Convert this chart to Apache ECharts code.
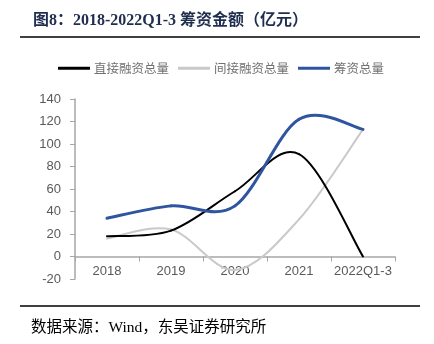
<!DOCTYPE html>
<html><head><meta charset="utf-8">
<script src="https://cdn.jsdelivr.net/npm/echarts@6/dist/echarts.min.js"></script>
<style>html,body{margin:0;padding:0;background:#fff}#c{width:434px;height:344px}</style>
</head><body><div id="c"></div>
<script>
var categories = ['2018', '2019', '2020', '2021', '2022Q1-3'];
var directFinancing = [18, 23, 58, 91, 0];
var indirectFinancing = [16, 24, -12, 33, 113];
var totalFinancing = [34, 45, 45, 122, 113];
var yTicks = {min: -20, max: 140, interval: 20};

var chart = echarts.init(document.getElementById('c'), null, {renderer: 'canvas'});
var serif = '"Liberation Serif", "Noto Sans CJK SC", serif';
var sans = '"Liberation Sans", Arial, sans-serif';

// Smooth (Excel-like, Catmull-Rom) segment renderer using the chart's own coordinate system
function smoothSeries(name, values, color, width, z) {
  return {
    name: name, type: 'custom', z: z,
    itemStyle: {color: color},
    encode: {x: 0, y: 1},
    data: values.map(function (v, i) { return [i, v]; }),
    renderItem: function (params, api) {
      var i = params.dataIndex, n = values.length;
      if (i >= n - 1) return null;
      var pt = function (k) {
        k = Math.max(0, Math.min(n - 1, k));
        return api.coord([k, values[k]]);
      };
      var p0 = pt(i - 1), p1 = pt(i), p2 = pt(i + 1), p3 = pt(i + 2);
      var t = 1 / 6;
      return {
        type: 'bezierCurve',
        shape: {
          x1: p1[0], y1: p1[1], x2: p2[0], y2: p2[1],
          cpx1: p1[0] + (p2[0] - p0[0]) * t, cpy1: p1[1] + (p2[1] - p0[1]) * t,
          cpx2: p2[0] - (p3[0] - p1[0]) * t, cpy2: p2[1] - (p3[1] - p1[1]) * t
        },
        style: {stroke: color, lineWidth: width, fill: null, lineCap: 'round'}
      };
    }
  };
}

chart.setOption({
  animation: false,
  backgroundColor: '#fff',
  title: {
    text: '图8：2018-2022Q1-3 筹资金额（亿元）',
    left: 28, top: 8,
    textStyle: {fontFamily: serif, fontSize: 16, fontWeight: 'bold', color: '#1f2d4e'}
  },
  graphic: [
    {type: 'line', shape: {x1: 20, y1: 37, x2: 420, y2: 37}, style: {stroke: '#000', lineWidth: 1.5}},
    {type: 'line', shape: {x1: 20, y1: 306, x2: 420, y2: 306}, style: {stroke: '#000', lineWidth: 1.5}},
    {type: 'text', left: 31, top: 320, style: {text: '数据来源：Wind，东吴证券研究所', font: '15.5px ' + serif, fill: '#000'}}
  ],
  legend: {
    left: 58, top: 62, padding: 0,
    icon: 'rect', itemWidth: 32, itemHeight: 3, itemGap: 9,
    textStyle: {fontFamily: '"Noto Sans CJK SC"', fontSize: 12.5, color: '#707070', padding: [0, 0, 0, -1]},
    data: ['直接融资总量', '间接融资总量', '筹资总量']
  },
  grid: {left: 75, right: 39, top: 99, bottom: 65, containLabel: false},
  xAxis: {
    type: 'category', data: categories, boundaryGap: true,
    axisLine: {onZero: true, lineStyle: {color: '#a6a6a6', width: 1.5}},
    axisTick: {show: true, alignWithLabel: false, lineStyle: {color: '#a6a6a6'}, length: 5},
    axisLabel: {interval: 0, fontFamily: sans, fontSize: 13, color: '#595959', margin: -14}
  },
  yAxis: {
    type: 'value', min: yTicks.min, max: yTicks.max, interval: yTicks.interval,
    splitLine: {show: false},
    axisLine: {show: true, lineStyle: {color: '#a6a6a6', width: 1.5}},
    axisTick: {show: true, lineStyle: {color: '#a6a6a6'}, length: 5},
    axisLabel: {fontFamily: sans, fontSize: 13, color: '#595959', margin: 14}
  },
  series: [
    smoothSeries('直接融资总量', directFinancing, '#000000', 2, 3),
    smoothSeries('间接融资总量', indirectFinancing, '#c9c9c9', 2, 2),
    smoothSeries('筹资总量', totalFinancing, '#2f55a0', 3, 4)
  ]
});
</script></body></html>
